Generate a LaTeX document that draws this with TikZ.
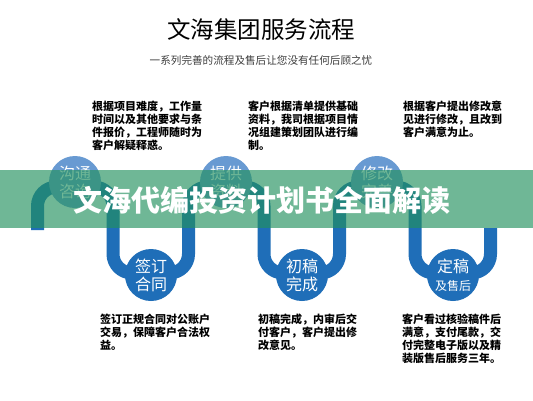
\documentclass[tikz,border=0pt]{standalone}
\usepackage{fontspec}
\newfontfamily\cjk{Noto Sans CJK SC}
\usetikzlibrary{positioning}
\definecolor{pipeblue}{RGB}{31,110,184}
\definecolor{paleblue}{RGB}{104,154,210}
\definecolor{bandgreen}{RGB}{35,145,94}
\definecolor{subgray}{RGB}{60,60,60}

\begin{document}
\begin{tikzpicture}[x=1pt, y=-1pt,
    pipe/.style={line width=13pt, draw=pipeblue, rounded corners=19pt},
    stage/.style={circle, fill=pipeblue, minimum size=52pt, inner sep=0pt,
                  text=white, align=center, font=\cjk\fontsize{16}{18}\selectfont},
    upstage/.style={stage, fill=paleblue},
    desc/.style={anchor=north west, inner sep=0pt, align=left,
                 font=\cjk\bfseries\fontsize{11}{12.8}\selectfont}
]
\useasboundingbox[fill=white] (0,0) rectangle (533,400);

% heading
\node[font=\cjk\fontsize{23.5}{26}\selectfont] (title) at (261,29) {文海集团服务流程};
\node[font=\cjk\fontsize{10.6}{12}\selectfont, text=subgray] (subtitle) at (261,60)
    {一系列完善的流程及售后让您没有任何后顾之忧};

% winding pipe
\draw[pipe] (37.5,230) -- (37.5,187) -- (113,187) -- (113,273) -- (188.5,273)
    -- (188.5,187) -- (264,187) -- (264,273) -- (339.5,273) -- (339.5,187)
    -- (415,187) -- (415,273) -- (490.5,273) -- (490.5,228);

% stages
\node[upstage] (talk)   at (75,182)  {沟通\\咨询};
\node[stage]   (sign)   at (151,275) {签订\\合同};
\node[upstage] (supply) at (226,182) {提供\\资料};
\node[stage]   (draft)  at (302,275) {初稿\\完成};
\node[upstage] (revise) at (377,182) {修改\\完善};
\node[stage]   (final)  at (453,275) {定稿\\{\fontsize{12}{14}\selectfont 及售后}};

% descriptions
\node[desc] (talkTxt)   at (92,101)  {根据项目难度，工作量\\时间以及其他要求与条\\件报价，工程师随时为\\客户解疑释惑。};
\node[desc] (supplyTxt) at (248,101) {客户根据清单提供基础\\资料，我司根据项目情\\况组建策划团队进行编\\制。};
\node[desc] (reviseTxt) at (403,101) {根据客户提出修改意\\见进行修改，且改到\\客户满意为止。};
\node[desc] (signTxt)   at (100,314) {签订正规合同对公账户\\交易，保障客户合法权\\益。};
\node[desc] (draftTxt)  at (258,314) {初稿完成，内审后交\\付客户，客户提出修\\改意见。};
\node[desc] (finalTxt)  at (402,314) {客户看过核验稿件后\\满意，支付尾款，交\\付完整电子版以及精\\装版售后服务三年。};

% banner over the picture
\fill[bandgreen, fill opacity=0.65] (0,170) rectangle (533,228);
\node[font=\cjk\bfseries\fontsize{29}{32}\selectfont, text=white] (banner) at (262,200)
    {文海代编投资计划书全面解读};
\end{tikzpicture}
\end{document}
